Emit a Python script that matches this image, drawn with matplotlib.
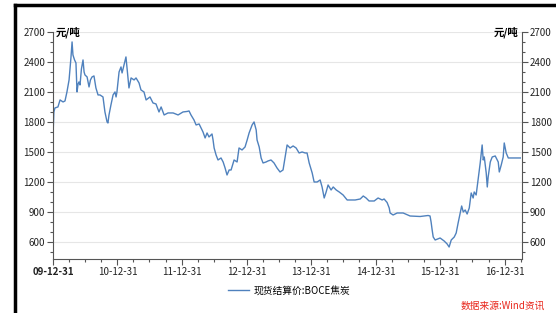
import matplotlib
matplotlib.use("Agg")
from matplotlib import pyplot as plt
from matplotlib.lines import Line2D
import matplotlib.dates as mdates
import numpy as np
import pandas as pd

plt.rcParams['font.family'] = ['Noto Sans CJK SC', 'DejaVu Sans']

dates = [
    "2009-12-31", "2010-01-05", "2010-01-11", "2010-01-28", "2010-02-09", "2010-02-26",
    "2010-03-09", "2010-03-20", "2010-04-01", "2010-04-12", "2010-04-18", "2010-04-23",
    "2010-05-02", "2010-05-10", "2010-05-16", "2010-05-22", "2010-05-27", "2010-06-02",
    "2010-06-10", "2010-06-19", "2010-06-25", "2010-06-30", "2010-07-12", "2010-07-23",
    "2010-07-31", "2010-08-09", "2010-08-20", "2010-08-31", "2010-09-12", "2010-09-23",
    "2010-10-10", "2010-10-21", "2010-11-02", "2010-11-07", "2010-11-13", "2010-11-24",
    "2010-12-06", "2010-12-17", "2010-12-23", "2010-12-28", "2011-01-09", "2011-01-20",
    "2011-01-26", "2011-02-06", "2011-02-17", "2011-02-23", "2011-03-06", "2011-03-18",
    "2011-04-04", "2011-04-15", "2011-05-02", "2011-05-13", "2011-05-30", "2011-06-11",
    "2011-07-03", "2011-07-20", "2011-08-06", "2011-08-23", "2011-09-04", "2011-09-21",
    "2011-10-13", "2011-11-11", "2011-12-09", "2012-01-06", "2012-01-29", "2012-02-09",
    "2012-02-20", "2012-03-08", "2012-03-20", "2012-04-06", "2012-04-17", "2012-04-28",
    "2012-05-10", "2012-05-21", "2012-06-01", "2012-06-18", "2012-06-24", "2012-06-30",
    "2012-07-11", "2012-07-22", "2012-08-08", "2012-08-20", "2012-08-31", "2012-09-11",
    "2012-09-23", "2012-10-04", "2012-10-21", "2012-11-07", "2012-11-18", "2012-12-05",
    "2012-12-22", "2013-01-03", "2013-01-14", "2013-01-31", "2013-02-11", "2013-02-23",
    "2013-02-28", "2013-03-12", "2013-03-23", "2013-04-03", "2013-04-20", "2013-05-01",
    "2013-05-18", "2013-06-04", "2013-06-21", "2013-07-08", "2013-07-25", "2013-08-06",
    "2013-08-17", "2013-09-03", "2013-09-20", "2013-10-07", "2013-10-24", "2013-11-10",
    "2013-11-27", "2013-12-08", "2013-12-20", "2014-01-06", "2014-01-17", "2014-02-03",
    "2014-02-20", "2014-03-03", "2014-03-15", "2014-03-26", "2014-04-06", "2014-04-23",
    "2014-05-05", "2014-05-22", "2014-06-08", "2014-06-30", "2014-07-23", "2014-08-09",
    "2014-09-06", "2014-10-05", "2014-10-22", "2014-11-07", "2014-11-24", "2014-12-23",
    "2015-01-14", "2015-02-06", "2015-02-17", "2015-03-06", "2015-03-18", "2015-03-23",
    "2015-04-09", "2015-05-02", "2015-06-05", "2015-07-14", "2015-09-09", "2015-10-24",
    "2015-11-04", "2015-11-10", "2015-11-16", "2015-11-22", "2015-12-03", "2015-12-31",
    "2016-01-23", "2016-02-09", "2016-02-20", "2016-03-03", "2016-03-20", "2016-03-31",
    "2016-04-11", "2016-04-23", "2016-05-01", "2016-05-10", "2016-05-21", "2016-06-01",
    "2016-06-13", "2016-06-24", "2016-07-05", "2016-07-11", "2016-07-22", "2016-08-03",
    "2016-08-14", "2016-08-25", "2016-08-31", "2016-09-06", "2016-09-17", "2016-09-23",
    "2016-09-28", "2016-10-10", "2016-10-21", "2016-11-07", "2016-11-24", "2016-11-30",
    "2016-12-11", "2016-12-22", "2016-12-28", "2017-01-08", "2017-01-20", "2017-03-29",
]
prices = [
    1650, 1900, 1940, 1950, 2020, 2000,
    2010, 2100, 2220, 2450, 2600, 2470,
    2420, 2390, 2100, 2180, 2200, 2170,
    2330, 2420, 2300, 2270, 2250, 2150,
    2220, 2250, 2260, 2140, 2070, 2070,
    2050, 1900, 1800, 1790, 1870, 1970,
    2070, 2100, 2050, 2100, 2300, 2350,
    2290, 2370, 2450, 2340, 2140, 2240,
    2220, 2240, 2190, 2120, 2100, 2020,
    2050, 1990, 1980, 1900, 1950, 1870,
    1890, 1890, 1870, 1900, 1905, 1910,
    1870, 1820, 1770, 1780, 1740, 1700,
    1640, 1690, 1650, 1680, 1620, 1540,
    1470, 1420, 1440, 1400, 1340, 1270,
    1320, 1320, 1420, 1400, 1540, 1520,
    1550, 1620, 1690, 1770, 1800, 1720,
    1620, 1550, 1440, 1390, 1400, 1410,
    1420, 1390, 1340, 1300, 1320, 1450,
    1570, 1540, 1560, 1540, 1490, 1500,
    1490, 1490, 1390, 1290, 1200, 1200,
    1220, 1150, 1040, 1100, 1170, 1120,
    1150, 1120, 1100, 1070, 1020, 1020,
    1020, 1030, 1060, 1040, 1010, 1010,
    1040, 1020, 1030, 995, 940, 890,
    870, 890, 890, 860, 855, 865,
    860, 800, 720, 650, 620, 640,
    610, 580, 550, 620, 650, 690,
    790, 890, 960, 900, 920, 880,
    940, 1090, 1040, 1100, 1070, 1240,
    1390, 1570, 1420, 1450, 1290, 1150,
    1250, 1400, 1450, 1460, 1400, 1300,
    1370, 1450, 1590, 1490, 1440, 1440,
]
series_name = "现货结算价:BOCE焦炭"
unit = "元/吨"
source = "数据来源:Wind资讯"
yticks = [600, 900, 1200, 1500, 1800, 2100, 2400, 2700]
xtick_dates = ["2009-12-31", "2010-12-31", "2011-12-31", "2012-12-31",
               "2013-12-31", "2014-12-31", "2015-12-31", "2016-12-31"]

x = pd.to_datetime(dates)
xt = pd.to_datetime(xtick_dates)

fig = plt.figure(figsize=(5.56, 3.13), dpi=100)
ax = fig.add_axes([0.0953, 0.1725, 0.8437, 0.7255])

line_color = '#4F81BD'
ax.plot(x, prices, color=line_color, lw=1.0)

ax.set_ylim(430, 2700)
ax.set_xlim(pd.Timestamp("2009-12-31"), pd.Timestamp("2017-04-08"))

ax.set_yticks(yticks)
ax.set_yticks(np.arange(500, 2701, 100), minor=True)
ax.set_xticks(xt)
ax.set_xticklabels([d.strftime("%y-%m-%d") for d in xt])
minor_x = pd.date_range("2009-12-31", "2017-04-08", freq="QE")
ax.set_xticks(minor_x, minor=True)

ax.grid(axis='y', which='major', color='#e6e6e6', lw=0.8)
ax.set_axisbelow(True)

for side in ['top']:
    ax.spines[side].set_visible(False)
for side in ['left', 'right', 'bottom']:
    ax.spines[side].set_color('#555555')
    ax.spines[side].set_linewidth(0.8)

ax.tick_params(axis='both', which='major', labelsize=7, colors='#555555',
               labelcolor='#222222', length=4, width=0.8, direction='out', pad=1.5)
ax.tick_params(axis='both', which='minor', colors='#555555', length=2.5, width=0.8,
               direction='out')
ax.tick_params(axis='y', which='both', left=True, right=True, labelleft=True,
               labelright=True)
ax.get_xticklabels()[0].set_fontweight('bold')

ax.text(0.005, 1.0, unit, transform=ax.transAxes, fontsize=7.5, fontweight='bold',
        ha='left', va='center')
ax.text(0.993, 1.0, unit, transform=ax.transAxes, fontsize=7.5, fontweight='bold',
        ha='right', va='center')

handle = Line2D([], [], color=line_color, lw=1.0)
fig.legend([handle], [series_name], loc='center', bbox_to_anchor=(0.52, 0.072),
           frameon=False, fontsize=7, handlelength=2.2, handletextpad=0.4)

fig.text(0.98, 0.022, source, color='#e8261b', fontsize=7, style='italic',
         ha='right', va='center')

# black frame on top and left
fig.add_artist(Line2D([0.027, 1.0], [0.984, 0.984], color='black', lw=2.5,
                      transform=fig.transFigure))
fig.add_artist(Line2D([0.027, 0.027], [0.0, 0.984], color='black', lw=2.5,
                      transform=fig.transFigure))

fig.savefig("out.png", dpi=100)
